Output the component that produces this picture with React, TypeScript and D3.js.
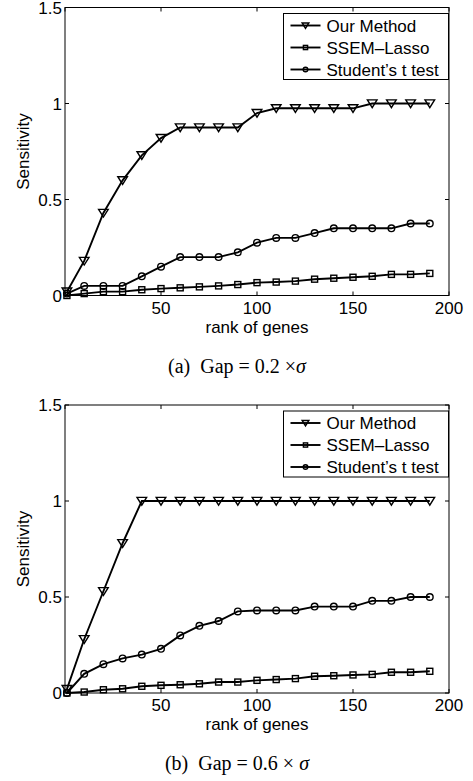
import React from 'react';
import * as d3 from 'd3';

const ranks = [1, 10, 20, 30, 40, 50, 60, 70, 80, 90, 100, 110, 120, 130, 140, 150, 160, 170, 180, 190];

// panel (a): Gap = 0.2 x sigma
const ourMethodA = [0.02, 0.18, 0.43, 0.6, 0.73, 0.82, 0.875, 0.875, 0.875, 0.875, 0.95, 0.975, 0.975, 0.975, 0.975, 0.975, 1, 1, 1, 1];
const ssemLassoA = [0, 0.01, 0.02, 0.02, 0.03, 0.036, 0.04, 0.045, 0.05, 0.057, 0.067, 0.07, 0.075, 0.085, 0.09, 0.095, 0.1, 0.11, 0.11, 0.115];
const tTestA = [0.01, 0.05, 0.05, 0.05, 0.1, 0.15, 0.2, 0.2, 0.2, 0.225, 0.275, 0.3, 0.3, 0.325, 0.35, 0.35, 0.35, 0.35, 0.375, 0.375];

// panel (b): Gap = 0.6 x sigma
const ourMethodB = [0.02, 0.28, 0.53, 0.78, 1, 1, 1, 1, 1, 1, 1, 1, 1, 1, 1, 1, 1, 1, 1, 1];
const ssemLassoB = [0, 0.005, 0.017, 0.022, 0.035, 0.04, 0.043, 0.048, 0.057, 0.057, 0.066, 0.07, 0.075, 0.087, 0.09, 0.094, 0.097, 0.108, 0.108, 0.113];
const tTestB = [0, 0.1, 0.15, 0.18, 0.2, 0.23, 0.3, 0.35, 0.375, 0.425, 0.43, 0.43, 0.43, 0.45, 0.45, 0.45, 0.48, 0.48, 0.5, 0.5];

const seriesNames = ['Our Method', 'SSEM\u2013Lasso', 'Student\u2019s t test'];
const markerKinds = ['triangle', 'square', 'circle'];
const xTicks = [50, 100, 150, 200];
const xTickMarks = [0, 50, 100, 150, 200];
const yTicks = [0, 0.5, 1, 1.5];
const yTickLabels = ['0', '0.5', '1', '1.5'];

const sans = 'Liberation Sans, Arial, sans-serif';
const serif = 'Liberation Serif, Times New Roman, serif';

function Marker({ kind, x, y, k = 1 }: { kind: string; x: number; y: number; k?: number }) {
  if (kind === 'triangle') {
    const s = 4.8 * k;
    return <path d={`M${x - s},${y - s * 0.75}L${x + s},${y - s * 0.75}L${x},${y + s * 0.85}Z`} fill="none" stroke="black" strokeWidth={1.4} />;
  }
  if (kind === 'square') {
    const h = 3 * k;
    return <rect x={x - h} y={y - h} width={2 * h} height={2 * h} fill="none" stroke="black" strokeWidth={1.4} />;
  }
  return <circle cx={x} cy={y} r={3.3 * k} fill="none" stroke="black" strokeWidth={1.4} />;
}

function Panel({ top, series, caption }: { top: number; series: number[][]; caption: React.ReactNode }) {
  const left = 65, right = 449, height = 288;
  const x = d3.scaleLinear().domain([0, 200]).range([left, right]);
  const y = d3.scaleLinear().domain([0, 1.5]).range([top + height, top]);
  const line = d3.line<number>().x((_, i) => x(ranks[i])).y(d => y(d));
  const tl = 4;
  const legX = 283.5, legY = top + 6, legW = 165, legH = 66;
  return (
    <g>
      <rect x={left} y={top} width={right - left} height={height} fill="white" stroke="black" strokeWidth={1} />
      {xTickMarks.map(t => (
        <g key={'xt' + t}>
          <line x1={x(t)} x2={x(t)} y1={top + height} y2={top + height - tl} stroke="black" />
          <line x1={x(t)} x2={x(t)} y1={top} y2={top + tl} stroke="black" />
        </g>
      ))}
      {yTicks.map(t => (
        <g key={'yt' + t}>
          <line x1={left} x2={left + tl} y1={y(t)} y2={y(t)} stroke="black" />
          <line x1={right} x2={right - tl} y1={y(t)} y2={y(t)} stroke="black" />
        </g>
      ))}
      {xTicks.map(t => (
        <text key={'xl' + t} x={x(t)} y={top + height + 18} textAnchor="middle" fontFamily={sans} fontSize={17}>{t}</text>
      ))}
      {yTicks.map((t, i) => (
        <text key={'yl' + t} x={left - 3} y={y(t) + 6} textAnchor="end" fontFamily={sans} fontSize={17}>{yTickLabels[i]}</text>
      ))}
      <text transform={`translate(29,${top + height / 2}) rotate(-90)`} textAnchor="middle" fontFamily={sans} fontSize={17}>Sensitivity</text>
      <text x={(left + right) / 2} y={top + height + 37} textAnchor="middle" fontFamily={sans} fontSize={17}>rank of genes</text>
      {series.map((vals, si) => (
        <g key={'s' + si}>
          <path d={line(vals) || ''} fill="none" stroke="black" strokeWidth={1.9} />
          {vals.map((v, i) => <Marker key={i} kind={markerKinds[si]} x={x(ranks[i])} y={y(v)} />)}
        </g>
      ))}
      <rect x={legX} y={legY} width={legW} height={legH} fill="white" stroke="black" strokeWidth={1} />
      {seriesNames.map((name, i) => {
        const ly = legY + 12 + i * 22;
        return (
          <g key={name}>
            <line x1={legX + 7} x2={legX + 37} y1={ly} y2={ly} stroke="black" strokeWidth={1.9} />
            <Marker kind={markerKinds[i]} x={legX + 22} y={ly} k={0.7} />
            <text x={legX + 43} y={ly + 6} fontFamily={sans} fontSize={17}>{name}</text>
          </g>
        );
      })}
      <text x={237} y={top + height + 77} textAnchor="middle" fontFamily={serif} fontSize={20} style={{ whiteSpace: 'pre' }}>{caption}</text>
    </g>
  );
}

export default function App() {
  return (
    <svg width={473} height={781} style={{ position: 'absolute', left: 0, top: 0, background: 'white' }}>
      <rect width={473} height={781} fill="white" />
      <Panel top={7.5} series={[ourMethodA, ssemLassoA, tTestA]}
        caption={<>(a)  Gap = 0.2 ×<tspan fontStyle="italic">σ</tspan></>} />
      <Panel top={405} series={[ourMethodB, ssemLassoB, tTestB]}
        caption={<>(b)  Gap = 0.6 × <tspan fontStyle="italic">σ</tspan></>} />
    </svg>
  );
}
